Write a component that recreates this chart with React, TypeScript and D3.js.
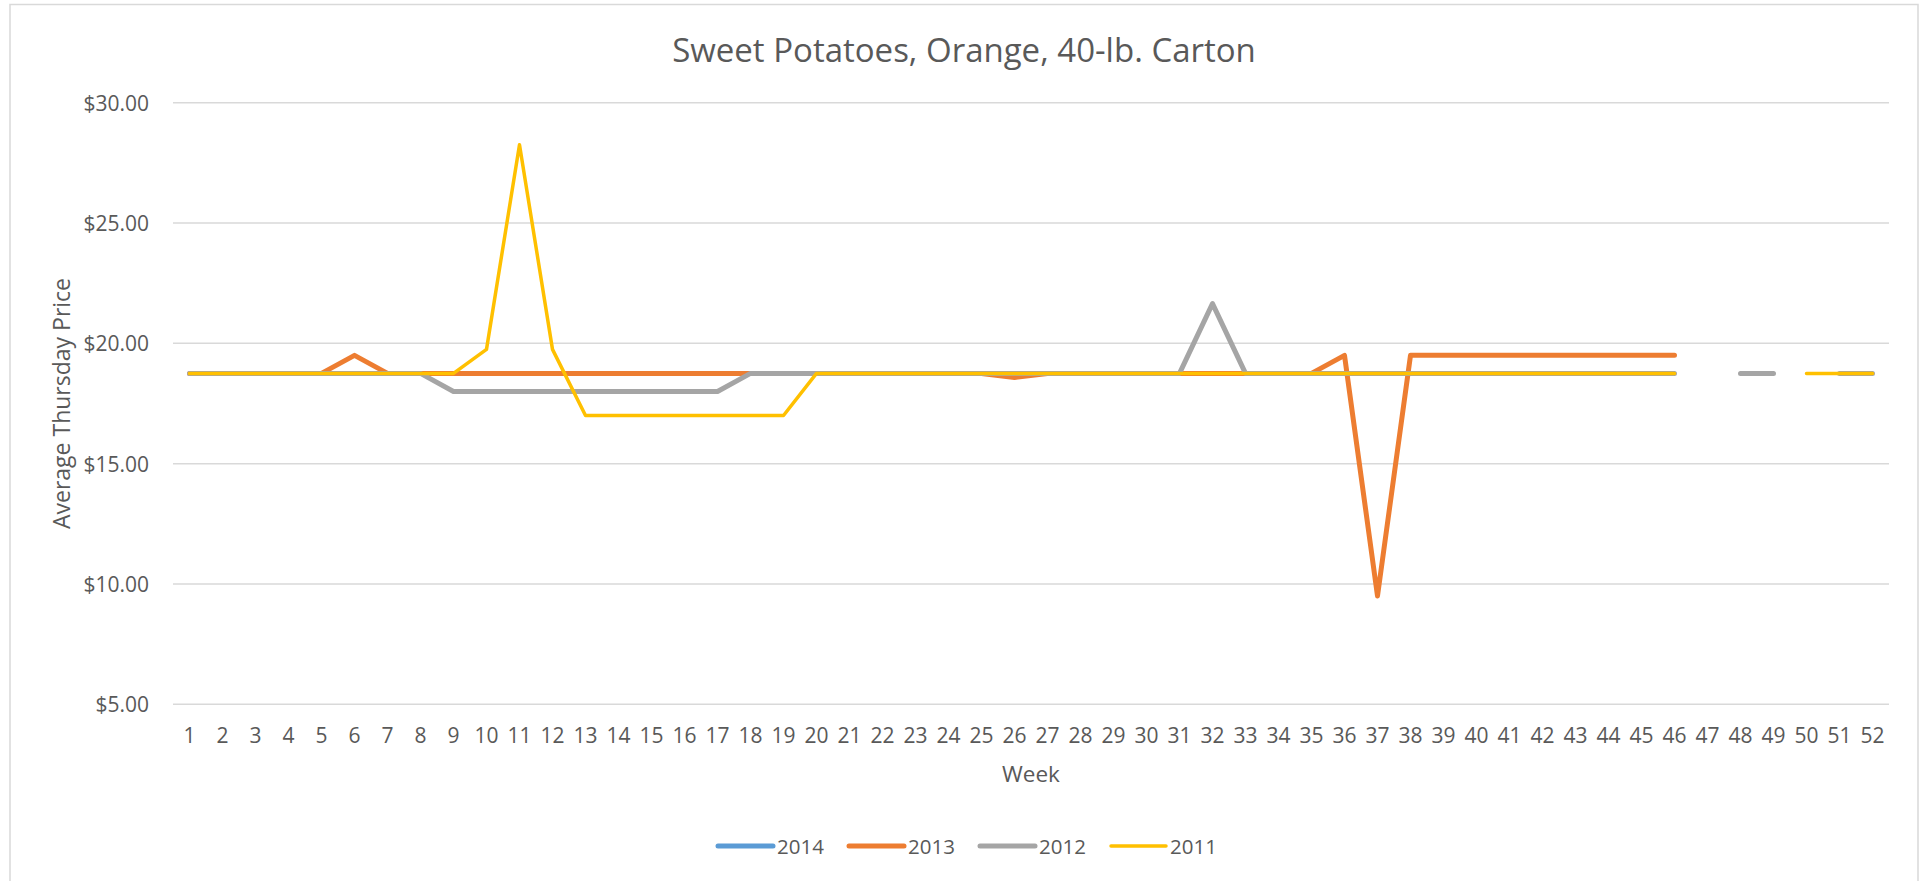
import React from "react";
import * as d3 from "d3";

const weeks = [
  "1","2","3","4","5","6","7","8","9","10","11","12","13","14","15","16","17","18","19","20",
  "21","22","23","24","25","26","27","28","29","30","31","32","33","34","35","36","37","38","39","40",
  "41","42","43","44","45","46","47","48","49","50","51","52",
];

const s2014: (number | null)[] = [
  null,null,null,null,null,null,null,null,null,null,
  null,null,null,null,null,null,null,null,null,null,
  null,null,null,null,null,null,null,null,null,null,
  null,null,null,null,null,null,null,null,null,null,
  null,null,null,null,null,null,null,null,null,null,
  null,null,
];

const s2013: (number | null)[] = [
  18.75,18.75,18.75,18.75,18.75,19.5,18.75,18.75,18.75,18.75,
  18.75,18.75,18.75,18.75,18.75,18.75,18.75,18.75,18.75,18.75,
  18.75,18.75,18.75,18.75,18.75,18.58,18.75,18.75,18.75,18.75,
  18.75,18.75,18.75,18.75,18.75,19.5,9.5,19.5,19.5,19.5,
  19.5,19.5,19.5,19.5,19.5,19.5,null,null,null,null,
  null,null,
];

const s2012: (number | null)[] = [
  18.75,18.75,18.75,18.75,18.75,18.75,18.75,18.75,18,18,
  18,18,18,18,18,18,18,18.75,18.75,18.75,
  18.75,18.75,18.75,18.75,18.75,18.75,18.75,18.75,18.75,18.75,
  18.75,21.65,18.75,18.75,18.75,18.75,18.75,18.75,18.75,18.75,
  18.75,18.75,18.75,18.75,18.75,18.75,null,18.75,18.75,null,
  18.75,18.75,
];

const s2011: (number | null)[] = [
  18.75,18.75,18.75,18.75,18.75,18.75,18.75,18.75,18.75,19.75,
  28.25,19.75,17,17,17,17,17,17,17,18.75,
  18.75,18.75,18.75,18.75,18.75,18.75,18.75,18.75,18.75,18.75,
  18.75,18.75,18.75,18.75,18.75,18.75,18.75,18.75,18.75,18.75,
  18.75,18.75,18.75,18.75,18.75,18.75,null,null,null,18.75,
  18.75,18.75,
];

const seriesNames = ["2014", "2013", "2012", "2011"];
const seriesValues = [s2014, s2013, s2012, s2011];
const seriesColors = ["#5B9BD5", "#ED7D31", "#A5A5A5", "#FFC000"];
const seriesWidths = [5, 5, 5, 3.5];

const yTicks = [5, 10, 15, 20, 25, 30];
const title = "Sweet Potatoes, Orange, 40-lb. Carton";
const yTitle = "Average Thursday Price";
const xTitle = "Week";

const W = 1925;
const H = 881;
const FONT = "'Open Sans', 'Noto Sans', sans-serif";
const TXT = "#595959";

export default function App() {
  const left = 173, right = 1889, top = 102.7, bottom = 704.3;
  const x = d3.scaleBand<string>().domain(weeks).range([left, right]);
  const y = d3.scaleLinear().domain([5, 30]).range([bottom, top]);
  const cx = (w: string) => (x(w) as number) + x.bandwidth() / 2;

  const line = d3
    .line<number | null>()
    .defined((d) => d !== null)
    .x((_, i) => cx(weeks[i]))
    .y((d) => y(d as number));

  const legendItemW = 131;
  const legendStart = 718;
  const legendY = 846;

  return (
    <div style={{ position: "fixed", left: 0, top: 0, width: W, height: H, background: "#fff" }}>
      <svg width={W} height={H} style={{ display: "block" }}>
        <rect x={0} y={0} width={W} height={H} fill="#fff" />
        <rect x={10} y={4.5} width={1908} height={H + 20} fill="#fff" stroke="#d9d9d9" strokeWidth={1.5} />

        <text x={964} y={49} textAnchor="middle" dominantBaseline="central" fontFamily={FONT} fontSize={33} fill={TXT}>
          {title}
        </text>

        {yTicks.map((t) => (
          <g key={t}>
            <line x1={left} x2={right} y1={y(t)} y2={y(t)} stroke="#d9d9d9" strokeWidth={1.5} />
            <text x={149} y={y(t)} textAnchor="end" dominantBaseline="central" fontFamily={FONT} fontSize={21} fill={TXT}>
              {"$" + t.toFixed(2)}
            </text>
          </g>
        ))}

        {weeks.map((w) => (
          <text key={w} x={cx(w)} y={735} textAnchor="middle" dominantBaseline="central" fontFamily={FONT} fontSize={21} fill={TXT}>
            {w}
          </text>
        ))}

        <text
          transform={`translate(61, ${(top + bottom) / 2}) rotate(-90)`}
          textAnchor="middle"
          dominantBaseline="central"
          fontFamily={FONT}
          fontSize={23}
          fill={TXT}
        >
          {yTitle}
        </text>
        <text x={(left + right) / 2} y={773} textAnchor="middle" dominantBaseline="central" fontFamily={FONT} fontSize={22.5} fill={TXT}>
          {xTitle}
        </text>

        {seriesValues.map((vals, i) => (
          <path
            key={seriesNames[i]}
            d={line(vals) || ""}
            fill="none"
            stroke={seriesColors[i]}
            strokeWidth={seriesWidths[i]}
            strokeLinecap="round"
            strokeLinejoin="round"
          />
        ))}

        {seriesNames.map((n, i) => {
          const lx = legendStart + i * legendItemW;
          return (
            <g key={n}>
              <line x1={lx} x2={lx + 55} y1={legendY} y2={legendY} stroke={seriesColors[i]} strokeWidth={seriesWidths[i]} strokeLinecap="round" />
              <text x={lx + 59} y={legendY} dominantBaseline="central" fontFamily={FONT} fontSize={20.5} fill={TXT}>
                {n}
              </text>
            </g>
          );
        })}
      </svg>
    </div>
  );
}
